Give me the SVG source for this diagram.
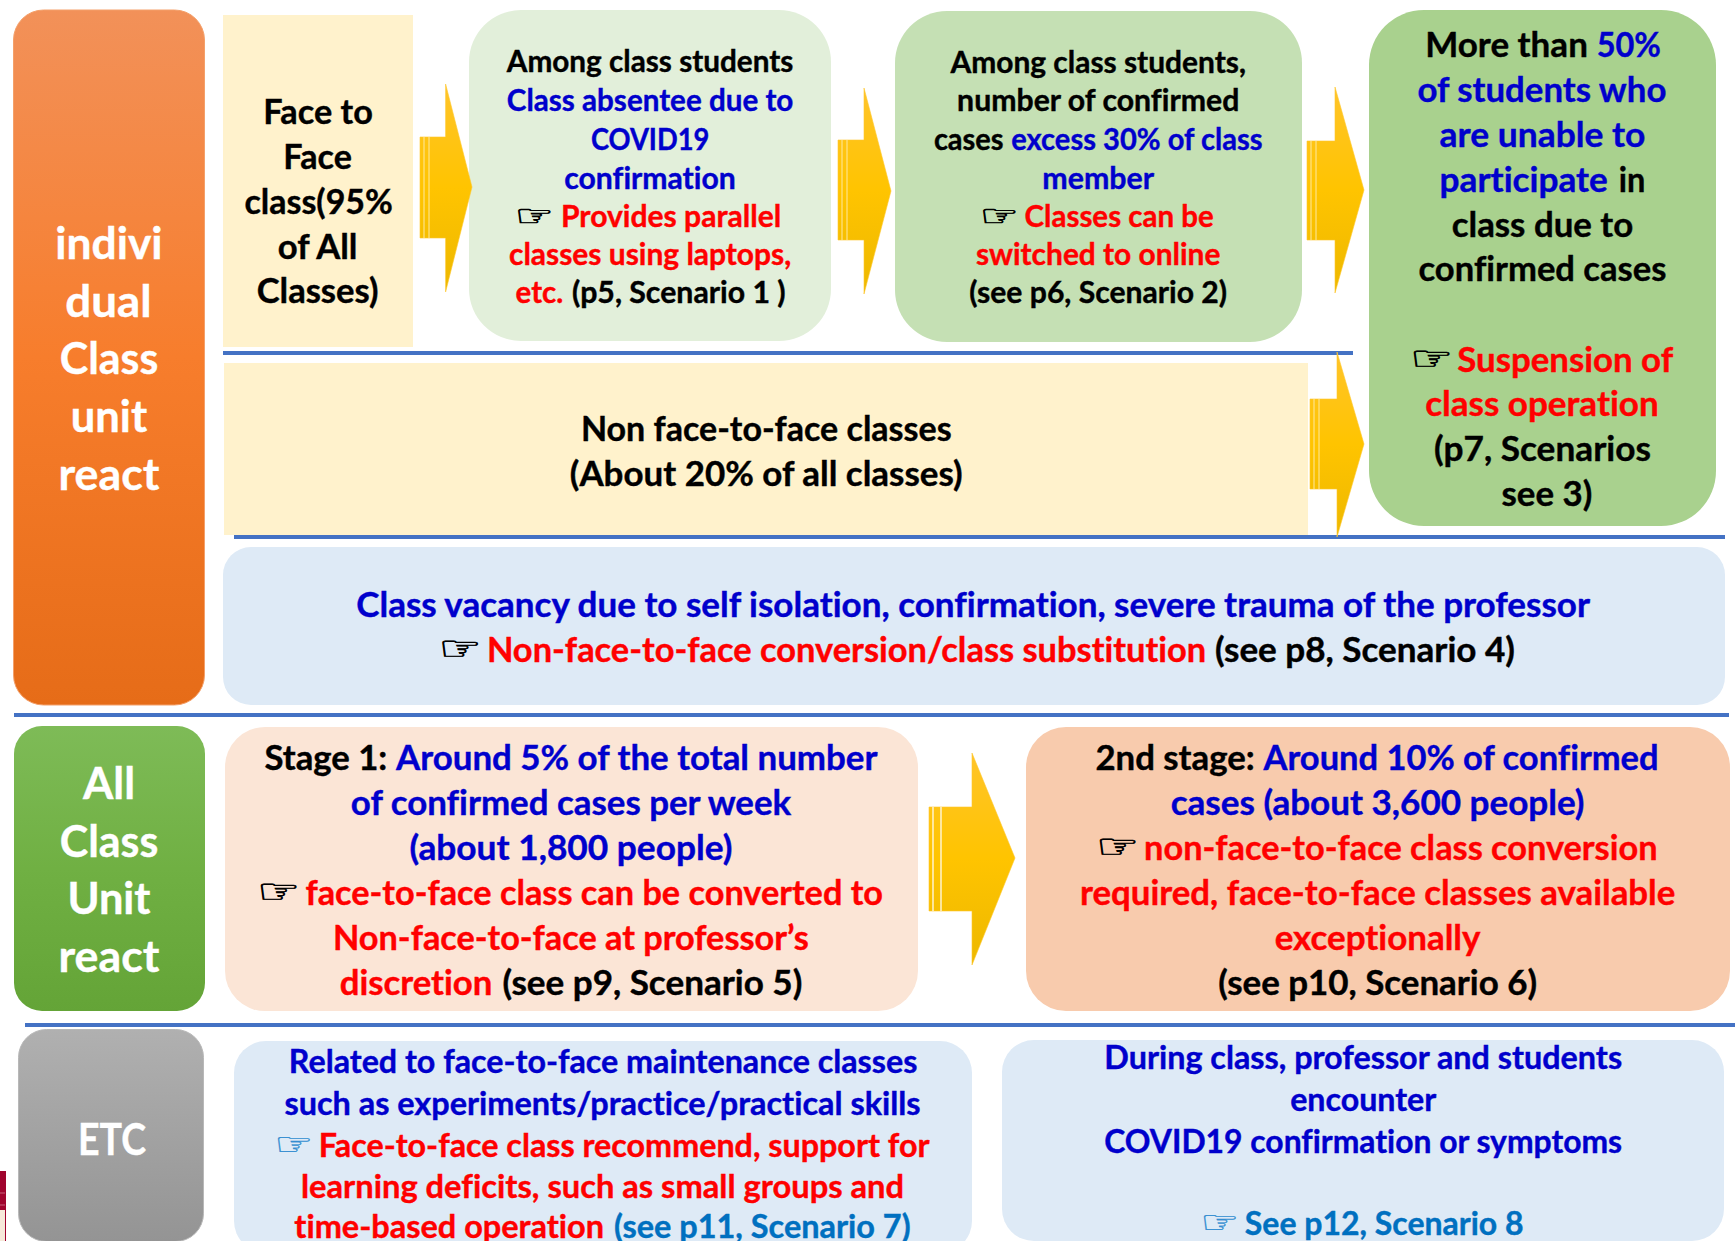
<svg xmlns="http://www.w3.org/2000/svg" width="1735" height="1241" viewBox="0 0 1735 1241">
<style>
text{font-family:"Lato","Carlito","Liberation Sans",sans-serif;font-weight:700;fill:#000;stroke:#000;stroke-width:.4px;font-variant-ligatures:none}
.s{font-size:29.5px}.e{font-size:31.5px}.l{font-size:34px}.w{font-size:43.5px;fill:#fff;stroke:#fff}
.b{fill:#0000CC;stroke:#0000CC}.r{fill:#FF0000;stroke:#FF0000}.c{fill:#0070C0;stroke:#0070C0}
.h{font-family:"DejaVu Sans",sans-serif;font-weight:400;stroke-width:.7px}
.hc{fill:#2E8BD0;stroke:#2E8BD0;stroke-width:.3px}
.st{stroke:#FFE9A0;stroke-width:1;fill:none}
.st5{stroke:#fff;stroke-width:1.2;fill:none}
.ln{stroke:#4472C4;stroke-width:4;fill:none}
.ar{fill:url(#ga);stroke:#FFC72E;stroke-width:.6}
</style>
<defs>
<linearGradient id="go" x1="0" y1="0" x2="0" y2="1"><stop offset="0" stop-color="#F29159"/><stop offset=".5" stop-color="#F77D2C"/><stop offset="1" stop-color="#E66C18"/></linearGradient>
<linearGradient id="gg" x1="0" y1="0" x2="0" y2="1"><stop offset="0" stop-color="#7EBB57"/><stop offset=".5" stop-color="#70B043"/><stop offset="1" stop-color="#64A437"/></linearGradient>
<linearGradient id="gy" x1="0" y1="0" x2="0" y2="1"><stop offset="0" stop-color="#B0B0B0"/><stop offset="1" stop-color="#949494"/></linearGradient>
<linearGradient id="ga" x1="0" y1="0" x2="0" y2="1"><stop offset="0" stop-color="#FFC42A"/><stop offset=".5" stop-color="#FFC400"/><stop offset="1" stop-color="#EDB800"/></linearGradient>
</defs>
<rect width="1735" height="1241" fill="#fff"/>
<g id="logo-fragment"><rect x="0" y="1171" width="6" height="70" fill="#A0042E"/><rect x="0" y="1210" width="5" height="31" fill="#F6E9DA"/><path d="M0 1193H5M0 1205H5" stroke="#C8607A" stroke-width="1"/></g>

<g id="node-individual">
<rect x="13.5" y="10" width="191" height="695" rx="30" fill="url(#go)" stroke="#F4A06A" stroke-width="1"/>
<text class="w" x="55.3" y="259.3" textLength="107.3" lengthAdjust="spacingAndGlyphs">indivi</text>
<text class="w" x="65.3" y="316.9" textLength="86.3" lengthAdjust="spacingAndGlyphs">dual</text>
<text class="w" x="59.8" y="374.4" textLength="98.5" lengthAdjust="spacingAndGlyphs">Class</text>
<text class="w" x="70.8" y="431.9" textLength="76.3" lengthAdjust="spacingAndGlyphs">unit</text>
<text class="w" x="58.6" y="489.5" textLength="100.7" lengthAdjust="spacingAndGlyphs">react</text>
</g>

<g id="node-face-to-face">
<rect x="223" y="15" width="190" height="332" fill="#FFF2CC"/>
<text class="l" x="263.3" y="124" textLength="109.5" lengthAdjust="spacingAndGlyphs">Face to</text>
<text class="l" x="283.3" y="169.4" textLength="68.6" lengthAdjust="spacingAndGlyphs">Face</text>
<text class="l" x="244.5" y="213.6" textLength="148.3" lengthAdjust="spacingAndGlyphs">class(95%</text>
<text class="l" x="277.7" y="259" textLength="79.7" lengthAdjust="spacingAndGlyphs">of All</text>
<text class="l" x="256.7" y="303.2" textLength="121.7" lengthAdjust="spacingAndGlyphs">Classes)</text>
</g>

<g id="node-scenario-1">
<rect x="469" y="10" width="362" height="331" rx="52" fill="#E2EFDA"/>
<text class="s" x="506.8" y="71.8" textLength="286.6" lengthAdjust="spacingAndGlyphs">Among class students</text>
<text class="s b" x="506.8" y="111.3" textLength="286.6" lengthAdjust="spacingAndGlyphs">Class absentee due to</text>
<text class="s b" x="590.9" y="150" textLength="118.4" lengthAdjust="spacingAndGlyphs">COVID19</text>
<text class="s b" x="564.3" y="188.7" textLength="171.5" lengthAdjust="spacingAndGlyphs">confirmation</text>
<text class="s h" x="515" y="225.5" textLength="39" lengthAdjust="spacingAndGlyphs">☞</text>
<text class="s r" x="561" y="227.4" textLength="220.2" lengthAdjust="spacingAndGlyphs">Provides parallel</text>
<text class="s r" x="509" y="265.1" textLength="282.2" lengthAdjust="spacingAndGlyphs">classes using laptops,</text>
<text class="s r" x="515.6" y="303" textLength="47.6" lengthAdjust="spacingAndGlyphs">etc.</text>
<text class="s" x="572" y="303" textLength="213.6" lengthAdjust="spacingAndGlyphs">(p5, Scenario 1 )</text>
</g>

<g id="node-scenario-2">
<rect x="895" y="11" width="407" height="331" rx="52" fill="#C5E0B4"/>
<text class="s" x="950.5" y="72.5" textLength="295.4" lengthAdjust="spacingAndGlyphs">Among class students,</text>
<text class="s" x="957.1" y="111.3" textLength="282.2" lengthAdjust="spacingAndGlyphs">number of confirmed</text>
<text class="s" x="933.9" y="150.4" textLength="69.7" lengthAdjust="spacingAndGlyphs">cases</text>
<text class="s b" x="1011.3" y="150.4" textLength="251.2" lengthAdjust="spacingAndGlyphs">excess 30% of class</text>
<text class="s b" x="1042.3" y="188.7" textLength="111.8" lengthAdjust="spacingAndGlyphs">member</text>
<text class="s h" x="980" y="225.5" textLength="39" lengthAdjust="spacingAndGlyphs">☞</text>
<text class="s r" x="1024.6" y="227.4" textLength="189.2" lengthAdjust="spacingAndGlyphs">Classes can be</text>
<text class="s r" x="975.9" y="265.1" textLength="244.5" lengthAdjust="spacingAndGlyphs">switched to online</text>
<text class="s" x="969.3" y="303" textLength="257.8" lengthAdjust="spacingAndGlyphs">(see p6, Scenario 2)</text>
</g>

<g id="node-scenario-3">
<rect x="1369" y="10" width="347" height="516" rx="55" fill="#A9D18E"/>
<text class="l" x="1425.2" y="57.3" textLength="162.7" lengthAdjust="spacingAndGlyphs">More than</text>
<text class="l b" x="1596.7" y="57.3" textLength="64.2" lengthAdjust="spacingAndGlyphs">50%</text>
<text class="l b" x="1417.4" y="102" textLength="249" lengthAdjust="spacingAndGlyphs">of students who</text>
<text class="l b" x="1439.6" y="147.4" textLength="205.8" lengthAdjust="spacingAndGlyphs">are unable to</text>
<text class="l b" x="1439.6" y="191.6" textLength="168.2" lengthAdjust="spacingAndGlyphs">participate</text>
<text class="l" x="1618.8" y="191.6" textLength="26.6" lengthAdjust="spacingAndGlyphs">in</text>
<text class="l" x="1451.7" y="237" textLength="181.5" lengthAdjust="spacingAndGlyphs">class due to</text>
<text class="l" x="1418.5" y="281.3" textLength="247.9" lengthAdjust="spacingAndGlyphs">confirmed cases</text>
<text class="l h" x="1410" y="369.5" textLength="43" lengthAdjust="spacingAndGlyphs">☞</text>
<text class="l r" x="1457.3" y="372" textLength="215.8" lengthAdjust="spacingAndGlyphs">Suspension of</text>
<text class="l r" x="1425.2" y="416.2" textLength="233.5" lengthAdjust="spacingAndGlyphs">class operation</text>
<text class="l" x="1434" y="461" textLength="216.9" lengthAdjust="spacingAndGlyphs">(p7, Scenarios</text>
<text class="l" x="1501.5" y="505.8" textLength="90.7" lengthAdjust="spacingAndGlyphs">see 3)</text>
</g>

<g id="node-non-face-to-face">
<rect x="224" y="363" width="1084" height="172" fill="#FFF2CC"/>
<text class="l" x="580.9" y="441" textLength="370.7" lengthAdjust="spacingAndGlyphs">Non face-to-face classes</text>
<text class="l" x="569.8" y="485.8" textLength="392.8" lengthAdjust="spacingAndGlyphs">(About 20% of all classes)</text>
</g>

<g id="node-scenario-4">
<rect x="223" y="547" width="1502" height="158" rx="28" fill="#DEEAF6"/>
<text class="l b" x="356.3" y="617" textLength="1233.7" lengthAdjust="spacingAndGlyphs">Class vacancy due to self isolation, confirmation, severe trauma of the professor</text>
<text class="l h" x="438.5" y="660" textLength="43" lengthAdjust="spacingAndGlyphs">☞</text>
<text class="l r" x="486.9" y="661.8" textLength="719.2" lengthAdjust="spacingAndGlyphs">Non-face-to-face conversion/class substitution</text>
<text class="l" x="1215" y="661.8" textLength="299.9" lengthAdjust="spacingAndGlyphs">(see p8, Scenario 4)</text>
</g>

<g id="node-all-class">
<rect x="14" y="726" width="191" height="285" rx="28" fill="url(#gg)"/>
<text class="w" x="83" y="799.2" textLength="52" lengthAdjust="spacingAndGlyphs">All</text>
<text class="w" x="59.8" y="856.7" textLength="98.5" lengthAdjust="spacingAndGlyphs">Class</text>
<text class="w" x="67.5" y="914.3" textLength="83" lengthAdjust="spacingAndGlyphs">Unit</text>
<text class="w" x="58.6" y="971.8" textLength="100.7" lengthAdjust="spacingAndGlyphs">react</text>
</g>

<g id="node-scenario-5">
<rect x="225" y="727" width="693" height="284" rx="40" fill="#FBE5D6"/>
<text class="l" x="264.5" y="770.2" textLength="122.8" lengthAdjust="spacingAndGlyphs">Stage 1:</text>
<text class="l b" x="396.1" y="770.2" textLength="481.3" lengthAdjust="spacingAndGlyphs">Around 5% of the total number</text>
<text class="l b" x="350.8" y="814.6" textLength="440.4" lengthAdjust="spacingAndGlyphs">of confirmed cases per week</text>
<text class="l b" x="409.4" y="859.8" textLength="323.1" lengthAdjust="spacingAndGlyphs">(about 1,800 people)</text>
<text class="l h" x="257" y="903" textLength="43" lengthAdjust="spacingAndGlyphs">☞</text>
<text class="l r" x="305.4" y="905" textLength="577.6" lengthAdjust="spacingAndGlyphs">face-to-face class can be converted to</text>
<text class="l r" x="333" y="949.6" textLength="475.8" lengthAdjust="spacingAndGlyphs">Non-face-to-face at professor’s</text>
<text class="l r" x="339.7" y="994.6" textLength="152.7" lengthAdjust="spacingAndGlyphs">discretion</text>
<text class="l" x="502.4" y="994.6" textLength="299.9" lengthAdjust="spacingAndGlyphs">(see p9, Scenario 5)</text>
</g>

<g id="node-scenario-6">
<rect x="1026" y="727" width="704" height="284" rx="40" fill="#F8CBAD"/>
<text class="l" x="1095.4" y="770.2" textLength="159.3" lengthAdjust="spacingAndGlyphs">2nd stage:</text>
<text class="l b" x="1263.6" y="770.2" textLength="395" lengthAdjust="spacingAndGlyphs">Around 10% of confirmed</text>
<text class="l b" x="1170.7" y="814.6" textLength="413.8" lengthAdjust="spacingAndGlyphs">cases (about 3,600 people)</text>
<text class="l h" x="1096" y="857.8" textLength="43" lengthAdjust="spacingAndGlyphs">☞</text>
<text class="l r" x="1144.1" y="859.8" textLength="513.4" lengthAdjust="spacingAndGlyphs">non-face-to-face class conversion</text>
<text class="l r" x="1080" y="905" textLength="595.3" lengthAdjust="spacingAndGlyphs">required, face-to-face classes available</text>
<text class="l r" x="1274.7" y="949.6" textLength="205.8" lengthAdjust="spacingAndGlyphs">exceptionally</text>
<text class="l" x="1218.3" y="994.6" textLength="318.7" lengthAdjust="spacingAndGlyphs">(see p10, Scenario 6)</text>
</g>

<g id="node-etc">
<rect x="18.5" y="1029.5" width="185" height="212" rx="28" fill="url(#gy)" stroke="#B8B8B8" stroke-width="1"/>
<text class="w" x="78" y="1154.5" textLength="68" lengthAdjust="spacingAndGlyphs">ETC</text>
</g>

<g id="node-scenario-7">
<rect x="234" y="1041" width="738" height="212" rx="32" fill="#DEEAF6"/>
<text class="e b" x="288.8" y="1072.5" textLength="628.5" lengthAdjust="spacingAndGlyphs">Related to face-to-face maintenance classes</text>
<text class="e b" x="284.4" y="1114.6" textLength="636.2" lengthAdjust="spacingAndGlyphs">such as experiments/practice/practical skills</text>
<text class="e h hc" x="274" y="1154.5" textLength="39" lengthAdjust="spacingAndGlyphs">☞</text>
<text class="e r" x="318.7" y="1156.7" textLength="610.8" lengthAdjust="spacingAndGlyphs">Face-to-face class recommend, support for</text>
<text class="e r" x="301" y="1197.6" textLength="603" lengthAdjust="spacingAndGlyphs">learning deficits, such as small groups and</text>
<text class="e r" x="294.3" y="1238.4" textLength="309.8" lengthAdjust="spacingAndGlyphs">time-based operation</text>
<text class="e c" x="614.1" y="1238.4" textLength="296.5" lengthAdjust="spacingAndGlyphs">(see p11, Scenario 7)</text>
</g>

<g id="node-scenario-8">
<rect x="1002" y="1040" width="722" height="201" rx="32" fill="#DEEAF6"/>
<text class="e b" x="1104.3" y="1069.3" textLength="517.8" lengthAdjust="spacingAndGlyphs">During class, professor and students</text>
<text class="e b" x="1290.2" y="1111.3" textLength="146.1" lengthAdjust="spacingAndGlyphs">encounter</text>
<text class="e b" x="1104.3" y="1153.4" textLength="517.8" lengthAdjust="spacingAndGlyphs">COVID19 confirmation or symptoms</text>
<text class="e h hc" x="1200" y="1233" textLength="39" lengthAdjust="spacingAndGlyphs">☞</text>
<text class="e c" x="1244.8" y="1235.2" textLength="278.8" lengthAdjust="spacingAndGlyphs">See p12, Scenario 8</text>
</g>

<g id="connectors">
<path class="ln" d="M223 353H1353M234 537H1725M14 715H1729M25 1025H1735"/>
<g id="arrows">
<polygon class="ar" points="420,137 445.6,137 445.6,84 472,187 445.6,292 445.6,238 420,238"/>
<path class="st" d="M424 137V238M429 137V238"/>
<polygon class="ar" points="838,140 864,140 864,88 891,191 864,294 864,240 838,240"/>
<path class="st" d="M842 140V240M847 140V240"/>
<polygon class="ar" points="1307,141 1335,141 1335,87 1364,190 1335,293 1335,240 1307,240"/>
<path class="st" d="M1311 141V240M1316 141V240"/>
<polygon class="ar" points="1310,399 1337,399 1337,352 1364,444 1337,537 1337,489 1310,489"/>
<path class="st" d="M1314 399V489M1319 399V489"/>
<polygon class="ar" points="929,807 972,807 972,753 1015,858 972,965 972,911 929,911"/>
<path class="st5" d="M933 807V911M941 807V911"/>
</g>
</g>
</svg>
